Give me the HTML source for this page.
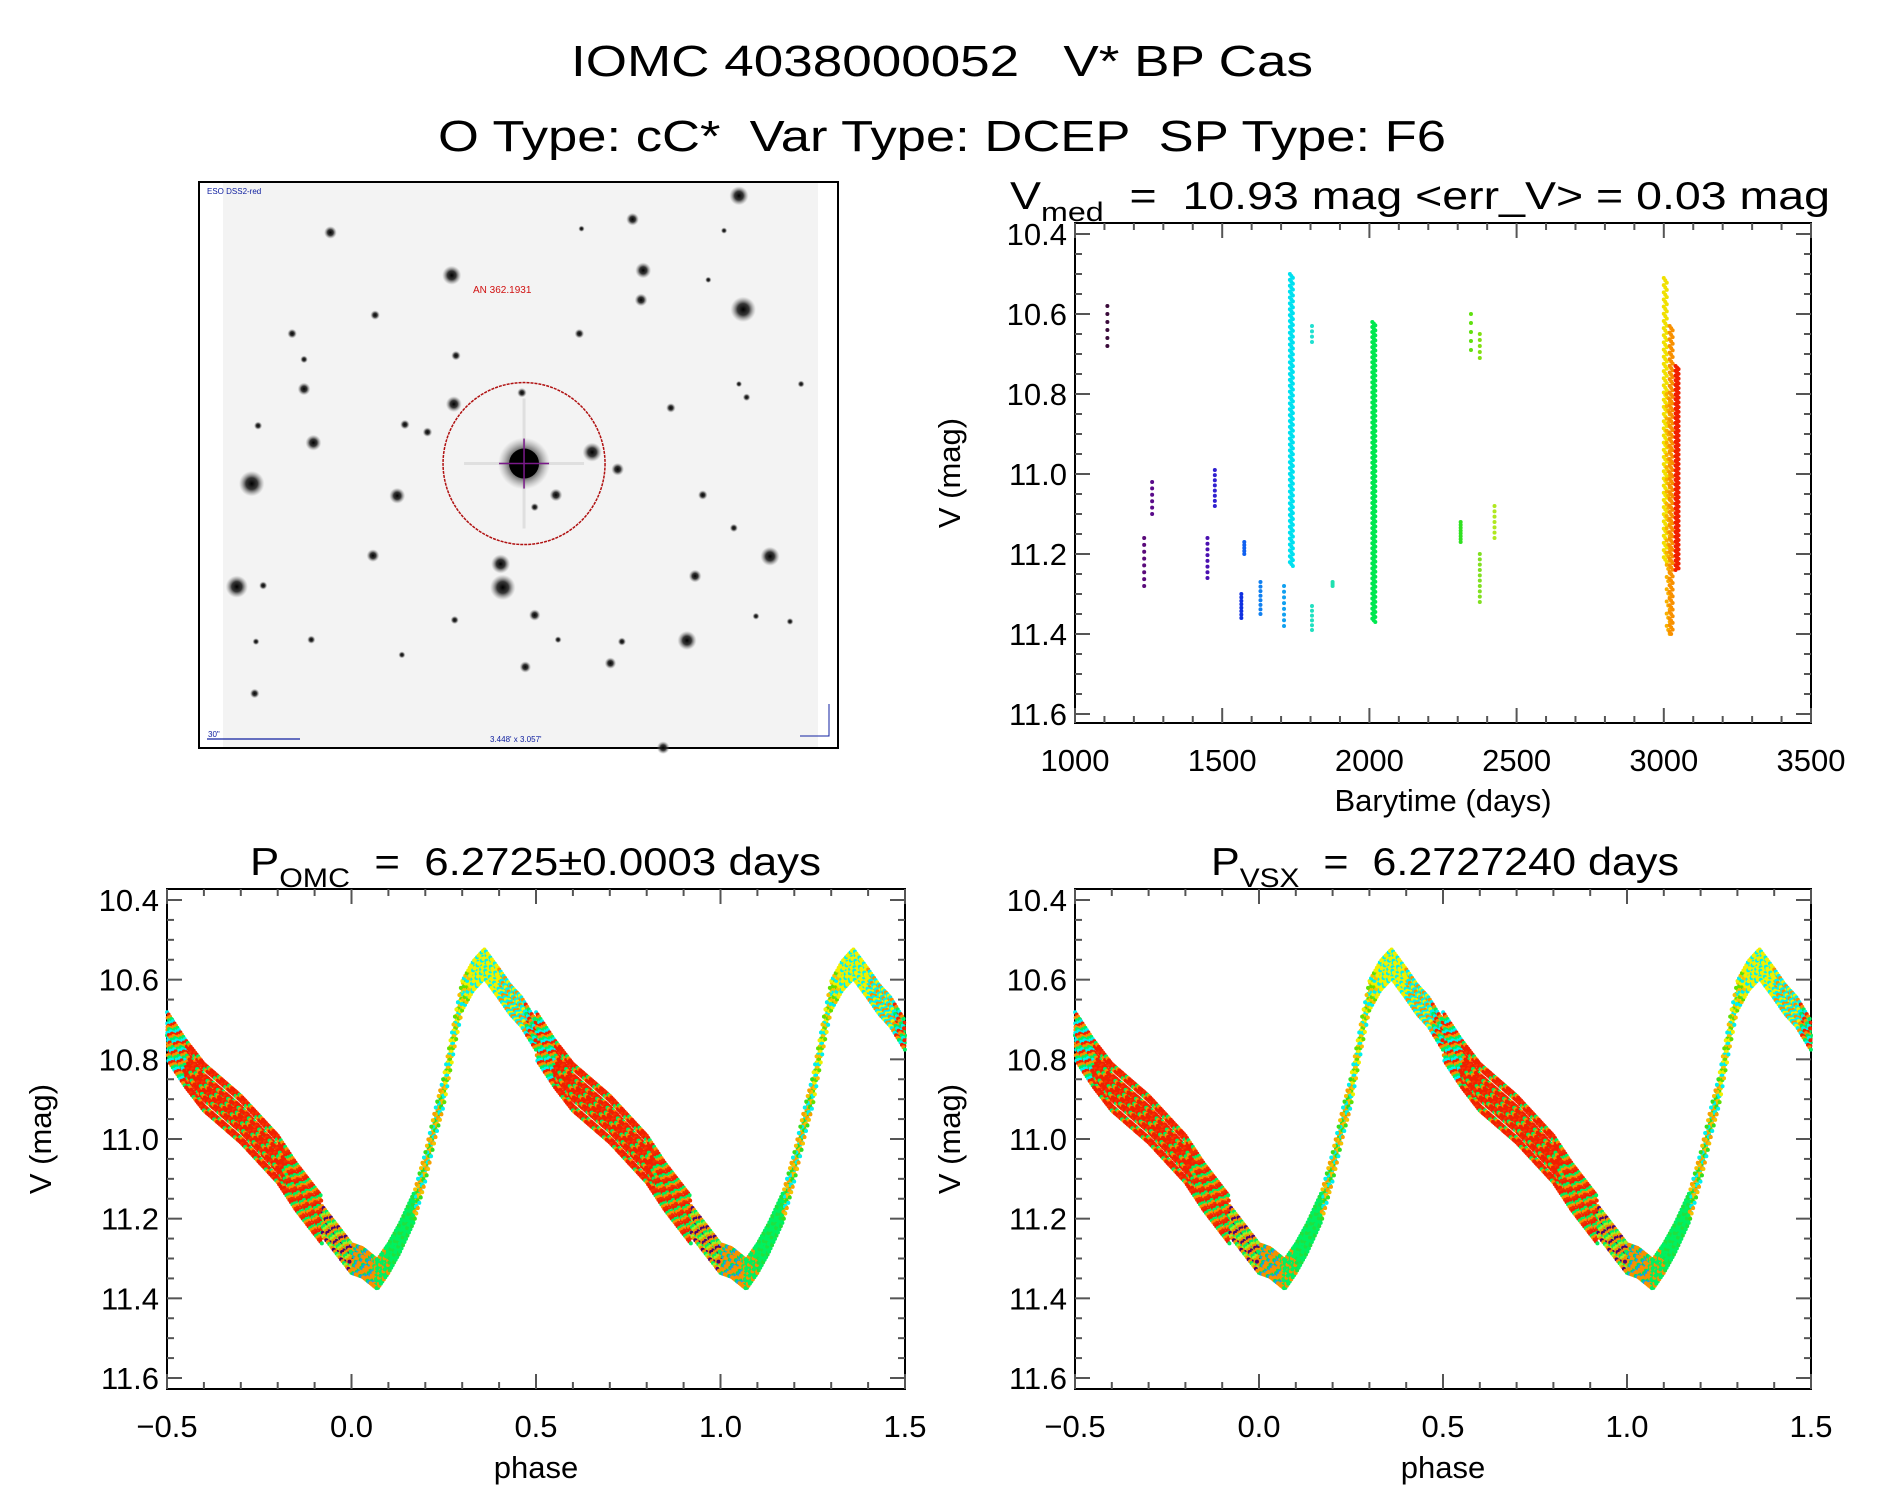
<!DOCTYPE html>
<html><head><meta charset="utf-8"><style>
html,body{margin:0;padding:0;background:#fff}
svg{display:block}
text{font-family:"Liberation Sans",sans-serif;fill:#000;white-space:pre}
</style></head><body>
<svg id="root" width="1889" height="1494" viewBox="0 0 1889 1494" xmlns="http://www.w3.org/2000/svg" xml:space="preserve">
<defs>
<radialGradient id="starG"><stop offset="0" stop-color="#000" stop-opacity="1"/><stop offset="0.45" stop-color="#222" stop-opacity="0.9"/><stop offset="1" stop-color="#888" stop-opacity="0"/></radialGradient>
</defs>
<text x="571" y="76" font-size="44" textLength="742" lengthAdjust="spacingAndGlyphs">IOMC 4038000052   V* BP Cas</text>
<text x="438" y="151" font-size="44" textLength="1008" lengthAdjust="spacingAndGlyphs">O Type: cC*  Var Type: DCEP  SP Type: F6</text>
<g id="img"></g>
<g id="ts"></g>
<g id="p1"></g>
<g id="p2"></g>
</svg>
<script>
// ---- time series data (segments) ----
const segT = [1110,1235,1262,1450,1475,1565,1575,1630,1710,1735,1805,1805,1875,2015,2310,2345,2375,2375,2425,3005,3015,3025,3045];
const segMin = [10.58,11.16,11.02,11.16,10.99,11.30,11.17,11.27,11.28,10.50,10.63,11.33,11.27,10.62,11.12,10.60,10.65,11.20,11.08,10.51,10.80,10.63,10.73];
const segMax = [10.68,11.28,11.10,11.26,11.08,11.36,11.20,11.35,11.38,11.23,10.67,11.39,11.28,11.37,11.17,10.69,10.71,11.32,11.16,11.22,11.40,11.40,11.24];
const segColor = ["#3a0a3a","#5a0a7a","#5a0a8a","#4a10b0","#3020d0","#1030e0","#1060f0","#1080f0","#10a0f0","#00e0f0","#20e0d0","#20e0c0","#20e0b0","#00e850","#30e020","#60e010","#80e010","#80e020","#b0e820","#f0e000","#f8b000","#f89000","#f02000"];
const segCount = [6,8,6,8,8,8,5,8,8,150,4,6,3,180,8,5,5,10,7,120,60,140,130];
const tsXTicks = [1000,1500,2000,2500,3000,3500];
const magTicks = [10.4,10.6,10.8,11.0,11.2,11.4,11.6];
// ---- phase curve data ----
const tplPhase = [0,0.03,0.07,0.10,0.13,0.17,0.20,0.23,0.25,0.28,0.30,0.33,0.36,0.40,0.43,0.46,0.50,0.55,0.60,0.65,0.70,0.75,0.80,0.85,0.90,0.95,1.0];
const tplMag = [11.30,11.31,11.34,11.30,11.25,11.17,11.07,10.95,10.88,10.73,10.64,10.59,10.56,10.61,10.65,10.68,10.74,10.81,10.87,10.91,10.95,11.00,11.05,11.12,11.18,11.24,11.30];
const bandStart = [0,0.06,0.10,0.17,0.25,0.32,0.40,0.47,0.55,0.82,0.92];
const bandColors = [
 ["#f89000","#f89000","#00e060","#10a0f0","#f89000"],
 ["#00f060","#f89000","#00f060"],
 ["#00f060","#00f060","#20e040"],
 ["#f8c000","#f8a000","#00f0f0","#30e020"],
 ["#f0f000","#00f0f0","#f8c000","#60e000"],
 ["#f0f000","#00f0f0","#f0f000"],
 ["#00f0f0","#f89000","#00f0f0","#f0f000"],
 ["#f89000","#00f060","#00f0f0","#f02000"],
 ["#f02000","#f02000","#f83000","#f02000","#00f060","#f89000","#f02000"],
 ["#f03000","#f02000","#00f060","#f89000"],
 ["#f89000","#00f060","#a0f020","#f89000","#500070"]];
const passMagOff = [0,-0.012,0.012,-0.024,0.024,-0.036,0.036,-0.006,0.006,-0.018,0.018,-0.045,0.045];
const passPhOff = [0,0.0012,-0.0012,0.0006,-0.0006,0.0018,-0.0018,0.0009,-0.0009,0.0015,-0.0015,0.0003,-0.0003];
const phaseXTicks = [-0.5,0,0.5,1.0,1.5];
const phaseXLabels = ["\u22120.5","0.0","0.5","1.0","1.5"];

const NS="http://www.w3.org/2000/svg";
function mk(tag,attrs,parent){const e=document.createElementNS(NS,tag);for(const k in attrs)e.setAttribute(k,attrs[k]);parent.appendChild(e);return e;}

function axes(g,L,R,T,B,xs,ys,xTicks,xLabels,xMinor,yMinorStep,xTitle,xTitleY,yTitleX,title,sub,titleX,titleLen,subTail){
  const fr=mk('rect',{x:L,y:T,width:R-L,height:B-T,fill:'none',stroke:'#000','stroke-width':2},g);
  
  
  for(let v=10.40;v<=11.601;v+=yMinorStep){
    const y=ys(v);const major=Math.abs((v*100)%20)<0.5||Math.abs((v*100)%20-20)<0.5;
    const len=major?15:7;
    mk('line',{x1:L,x2:L+len,y1:y,y2:y,stroke:'#555','stroke-width':2},g);
    mk('line',{x1:R,x2:R-len,y1:y,y2:y,stroke:'#555','stroke-width':2},g);
  }
  magTicks.forEach(v=>{const t=mk('text',{x:L-8,y:ys(v)+11,'font-size':31,'text-anchor':'end'},g);t.textContent=v.toFixed(1);
    
    });
  xMinor.forEach(v=>{const x=xs(v);mk('line',{x1:x,x2:x,y1:B,y2:B-7,stroke:'#555','stroke-width':2},g);mk('line',{x1:x,x2:x,y1:T,y2:T+7,stroke:'#555','stroke-width':2},g);});
  xTicks.forEach((v,i)=>{const x=xs(v);mk('line',{x1:x,x2:x,y1:B,y2:B-15,stroke:'#555','stroke-width':2},g);mk('line',{x1:x,x2:x,y1:T,y2:T+15,stroke:'#555','stroke-width':2},g);
    const t=mk('text',{x:x,y:B+48,'font-size':31,'text-anchor':'middle'},g);t.textContent=xLabels[i];
    
    });
  const xt=mk('text',{x:(L+R)/2,y:xTitleY,'font-size':31,'text-anchor':'middle'},g);xt.textContent=xTitle;
  
  
  const cy=(T+B)/2;
  const yt=mk('text',{x:yTitleX,y:cy,'font-size':31,'text-anchor':'middle',transform:`rotate(-90 ${yTitleX} ${cy})`},g);yt.textContent='V (mag)';
  
  
  const tt=mk('text',{x:titleX,y:T-14,'font-size':39,textLength:titleLen,lengthAdjust:'spacingAndGlyphs'},g);
  
  
  const s1=mk('tspan',{},tt);s1.textContent=title;
  const s2=mk('tspan',{dy:12,'font-size':27},tt);s2.textContent=sub;
  const s3=mk('tspan',{dy:-12},tt);s3.textContent=subTail;
}

// ---- time series plot ----
(function(){
  const g=document.getElementById('ts');
  const L=1075,R=1811,T=223,B=723;
  const xs=t=>L+(t-1000)/2500*(R-L);
  const ys=m=>234+(m-10.4)/1.2*480;
  const minor=[];for(let t=1100;t<3500;t+=100)if(t%500)minor.push(t);
  axes(g,L,R,T,B,xs,ys,tsXTicks,tsXTicks.map(String),minor,0.05,'Barytime (days)',811,960,'V','med',1010,820,'  =  10.93 mag <err_V> = 0.03 mag');
  const pts=mk('g',{},g);
  
  
  segT.forEach((t,i)=>{
    const n=segCount[i];
    for(let k=0;k<n;k++){
      const m=segMin[i]+(segMax[i]-segMin[i])*(n>1?k/(n-1):0);
      const dx=(n>50)?((k%3)-1)*1.5:0;
      mk('circle',{cx:xs(t)+dx,cy:ys(m),r:2,fill:segColor[i]},pts);
    }
  });
})();

// ---- phase plots ----
function interpMag(p){
  for(let i=0;i<tplPhase.length-1;i++){if(p>=tplPhase[i]&&p<=tplPhase[i+1]){const f=(p-tplPhase[i])/(tplPhase[i+1]-tplPhase[i]);return tplMag[i]+f*(tplMag[i+1]-tplMag[i]);}}
  return tplMag[tplMag.length-1];
}
function bandOf(p){let b=0;for(let i=0;i<bandStart.length;i++)if(p>=bandStart[i])b=i;return b;}
function phasePlot(id,L,R,titleX,title,sub,tail,yTitleX,tLen){
  const g=document.getElementById(id);
  const T=889,B=1389;
  const xs=p=>L+(p+0.5)/2*(R-L);
  const ys=m=>900+(m-10.4)/1.2*478;
  const minor=[];for(let v=-0.4;v<1.5;v+=0.1){const r=Math.round(v*10)/10;if(Math.abs(r*2-Math.round(r*2))>0.01)minor.push(r);}
  axes(g,L,R,T,B,xs,ys,phaseXTicks,phaseXLabels,minor,0.05,'phase',1478,yTitleX,title,sub,titleX,tLen,tail);
  const pts=mk('g',{},g);
  
  
  for(let k=0;k<passMagOff.length;k++){
    for(let j=0;j<250;j++){
      const p=j/250+passPhOff[k];
      const pp=((p%1)+1)%1;
      const b=bandOf(pp);const cols=bandColors[b];
      const col=cols[(k*3+j)%cols.length];
      const wide=(pp>0.5&&pp<0.92)?1.3:0.8;
      const m=interpMag(pp)+passMagOff[k]*wide;
      [-1,0,1].forEach(c=>{const x=pp+c;if(x>=-0.5&&x<=1.5){mk('circle',{cx:xs(x),cy:ys(m),r:2,fill:col},pts);}});
    }
  }
}
phasePlot('p1',167,905,250,'P','OMC','  =  6.2725\u00b10.0003 days',51,571);
phasePlot('p2',1075,1811,1211,'P','VSX','  =  6.2727240 days',960,468);

// ---- sky image ----
(function(){
  const g=document.getElementById('img');
  mk('rect',{x:199,y:182,width:639,height:566,fill:'#fff',stroke:'#000','stroke-width':2},g);
  mk('rect',{x:223,y:183,width:595,height:564,fill:'#f3f3f3'},g);
  const stars=[[1290,68,3],[1040,130,2],[330,165,2],[615,278,3],[1065,265,2.5],[1060,343,2],[1300,368,4],[435,383,1.5],[240,432,1.5],[915,432,1.5],[625,490,1.5],[268,500,1.2],[268,578,2],[620,618,2.5],[780,588,1.5],[1130,628,1.5],[1308,600,1.2],[160,675,1.3],[505,672,1.5],[558,692,1.5],[290,720,2.5],[145,828,4],[487,860,2.5],[945,745,3],[1005,790,2],[860,858,2],[810,890,1.3],[1205,858,1.5],[1278,945,1.3],[430,1018,2],[730,1040,3],[735,1102,4],[110,1100,3.5],[172,1097,1.3],[1363,1020,3],[1187,1072,2],[810,1175,1.8],[622,1188,1.3],[1168,1242,3],[285,1240,1.3],[155,1245,1.1],[1015,1245,1.3],[865,1240,1.1],[498,1280,1.1],[788,1312,1.8],[988,1302,1.8],[152,1382,1.5],[1330,1178,1.1],[1410,1192,1.1],[1112,1525,2],[920,155,1],[1255,160,1],[1218,290,1],[1436,565,1.1],[1290,565,1]];
  stars.forEach(s=>{const x=190+s[0]/2.35,y=170+s[1]/2.64;const c=mk('circle',{cx:x,cy:y,r:s[2]*3.2,fill:'url(#starG)'},g);
    
    });
  const cx=190+785/2.35,cy=170+775/2.64;
  mk('line',{x1:cx-60,x2:cx+60,y1:cy,y2:cy,stroke:'#ccc','stroke-width':3,opacity:0.5},g);
  mk('line',{x1:cx,x2:cx,y1:cy-65,y2:cy+65,stroke:'#ccc','stroke-width':3,opacity:0.5},g);
  mk('circle',{cx:cx,cy:cy,r:26,fill:'url(#starG)'},g);
  mk('circle',{cx:cx,cy:cy,r:15,fill:'#000'},g);
  mk('line',{x1:cx-25,x2:cx+25,y1:cy,y2:cy,stroke:'#7a1a8a','stroke-width':1.5},g);
  mk('line',{x1:cx,x2:cx,y1:cy-25,y2:cy+25,stroke:'#7a1a8a','stroke-width':1.5},g);
  const ring=mk('circle',{cx:cx,cy:cy,r:81,fill:'none',stroke:'#b01010','stroke-width':1.5,'stroke-dasharray':'3 1'},g);
  
  
  const lab=mk('text',{x:473,y:293,'font-size':10,style:'fill:#d01010'},g);lab.textContent='AN 362.1931';
  
  
  const t1=mk('text',{x:207,y:194,'font-size':8,style:'fill:#1020a0'},g);t1.textContent='ESO DSS2-red';
  
  
  mk('line',{x1:207,x2:300,y1:739,y2:739,stroke:'#1020a0','stroke-width':1.2},g);
  const t2=mk('text',{x:208,y:737,'font-size':8,style:'fill:#1020a0'},g);t2.textContent='30"';
  
  
  const t3=mk('text',{x:490,y:742,'font-size':8,style:'fill:#1020a0'},g);t3.textContent='3.448\' x 3.057\'';
  
  
  mk('path',{d:'M829 704 V736 H800',fill:'none',stroke:'#1020a0','stroke-width':1},g);
})();
</script>
</body></html>
